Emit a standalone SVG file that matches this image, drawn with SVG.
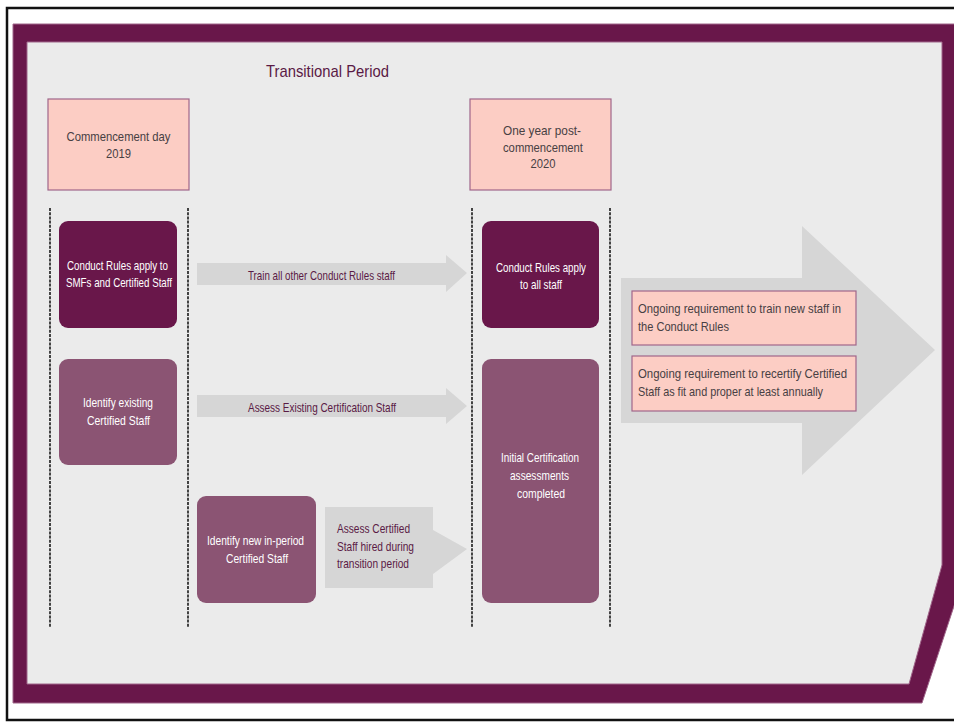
<svg xmlns="http://www.w3.org/2000/svg" width="954" height="723" viewBox="0 0 954 723">
  <style>
    .frame { fill: #69174a; stroke: #a0668a; stroke-width: 1; fill-rule: evenodd; }
    .milestone { fill: #fccdc4; stroke: #a0668a; stroke-width: 1.2; }
    .dark { fill: #69174a; }
    .mid { fill: #8b5473; }
    .flow { fill: #d6d6d6; }
    .divider { stroke: #1a1a1a; stroke-width: 1.6; stroke-dasharray: 3 1.2; fill: none; }
    text { font-family: "Liberation Sans", Arial, sans-serif; font-size: 13px; }
    .plain { fill: #474043; }
    .white { fill: #ffffff; text-anchor: middle; }
    .label { fill: #5a1a45; }
    .c { text-anchor: middle; }
  </style>

  <!-- page border -->
  <rect x="7" y="8" width="952" height="712" fill="#ffffff" stroke="#111111" stroke-width="2.5"/>

  <!-- purple frame with grey panel -->
  <polygon points="27,42 942,42 942,565 909,684 27,684" fill="#ebebeb"/>
  <path class="frame" d="M13 24 H960 V588 L922 703 H13 Z M27 42 V684 H909 L942 565 V42 Z"/>

  <!-- heading -->
  <text x="266" y="77" class="label" style="font-size:17px" textLength="123" lengthAdjust="spacingAndGlyphs">Transitional Period</text>

  <!-- period dividers -->
  <g id="dividers">
    <line class="divider" x1="50" y1="208" x2="50" y2="628"/>
    <line class="divider" x1="188" y1="208" x2="188" y2="628"/>
    <line class="divider" x1="472" y1="208" x2="472" y2="628"/>
    <line class="divider" x1="610" y1="208" x2="610" y2="628"/>
  </g>

  <!-- milestones -->
  <g id="commencement">
    <rect class="milestone" x="48" y="99" width="141" height="91"/>
    <text class="plain c" x="118.5" y="141" textLength="104" lengthAdjust="spacingAndGlyphs">Commencement day</text>
    <text class="plain c" x="118.5" y="158" textLength="25" lengthAdjust="spacingAndGlyphs">2019</text>
  </g>
  <g id="one-year">
    <rect class="milestone" x="470" y="99" width="141" height="91"/>
    <text class="plain c" x="542" y="135" textLength="78" lengthAdjust="spacingAndGlyphs">One year post-</text>
    <text class="plain c" x="543" y="152" textLength="80" lengthAdjust="spacingAndGlyphs">commencement</text>
    <text class="plain c" x="543" y="168" textLength="25" lengthAdjust="spacingAndGlyphs">2020</text>
  </g>

  <!-- connectors -->
  <g id="connectors">
    <polygon class="flow" points="197,263 446,263 446,255 467,273 446,292 446,285 197,285"/>
    <text class="label" x="248" y="280" textLength="147" lengthAdjust="spacingAndGlyphs">Train all other Conduct Rules staff</text>

    <polygon class="flow" points="197,395 446,395 446,388 467,406 446,424 446,417 197,417"/>
    <text class="label" x="248" y="412" textLength="148" lengthAdjust="spacingAndGlyphs">Assess Existing Certification Staff</text>

    <polygon class="flow" points="325,507 433,507 433,530 467,549 433,574 433,588 325,588"/>
    <text class="label" x="337" y="533" textLength="73" lengthAdjust="spacingAndGlyphs">Assess Certified</text>
    <text class="label" x="337" y="551" textLength="77" lengthAdjust="spacingAndGlyphs">Staff hired during</text>
    <text class="label" x="337" y="568" textLength="72" lengthAdjust="spacingAndGlyphs">transition period</text>

    <polygon class="flow" points="621,278 802,278 802,226 935,350 802,475 802,423 621,423"/>
  </g>

  <!-- activity nodes -->
  <g id="conduct-rules-smf">
    <rect class="dark" x="59" y="221" width="118" height="107" rx="9"/>
    <text class="white" x="117.5" y="270" textLength="101" lengthAdjust="spacingAndGlyphs">Conduct Rules apply to</text>
    <text class="white" x="119" y="287" textLength="106" lengthAdjust="spacingAndGlyphs">SMFs and Certified Staff</text>
  </g>
  <g id="identify-existing">
    <rect class="mid" x="59" y="359" width="118" height="106" rx="9"/>
    <text class="white" x="118" y="407" textLength="70" lengthAdjust="spacingAndGlyphs">Identify existing</text>
    <text class="white" x="118.5" y="425" textLength="63" lengthAdjust="spacingAndGlyphs">Certified Staff</text>
  </g>
  <g id="identify-new">
    <rect class="mid" x="197" y="496" width="119" height="107" rx="9"/>
    <text class="white" x="255.5" y="545" textLength="97" lengthAdjust="spacingAndGlyphs">Identify new in-period</text>
    <text class="white" x="257" y="563" textLength="62" lengthAdjust="spacingAndGlyphs">Certified Staff</text>
  </g>
  <g id="conduct-rules-all">
    <rect class="dark" x="482" y="221" width="117" height="107" rx="9"/>
    <text class="white" x="541" y="272" textLength="90" lengthAdjust="spacingAndGlyphs">Conduct Rules apply</text>
    <text class="white" x="541" y="289" textLength="42" lengthAdjust="spacingAndGlyphs">to all staff</text>
  </g>
  <g id="initial-certification">
    <rect class="mid" x="482" y="359" width="117" height="244" rx="9"/>
    <text class="white" x="540" y="462" textLength="78" lengthAdjust="spacingAndGlyphs">Initial Certification</text>
    <text class="white" x="539.5" y="480" textLength="59" lengthAdjust="spacingAndGlyphs">assessments</text>
    <text class="white" x="541" y="498" textLength="48" lengthAdjust="spacingAndGlyphs">completed</text>
  </g>

  <!-- ongoing requirements -->
  <g id="ongoing-training">
    <rect class="milestone" x="632" y="291" width="224" height="54"/>
    <text class="plain" x="638" y="313" textLength="203" lengthAdjust="spacingAndGlyphs">Ongoing requirement to train new staff in</text>
    <text class="plain" x="638" y="331" textLength="91" lengthAdjust="spacingAndGlyphs">the Conduct Rules</text>
  </g>
  <g id="ongoing-recertification">
    <rect class="milestone" x="632" y="356" width="224" height="55"/>
    <text class="plain" x="638" y="378" textLength="209" lengthAdjust="spacingAndGlyphs">Ongoing requirement to recertify Certified</text>
    <text class="plain" x="638" y="396" textLength="185" lengthAdjust="spacingAndGlyphs">Staff as fit and proper at least annually</text>
  </g>
</svg>
